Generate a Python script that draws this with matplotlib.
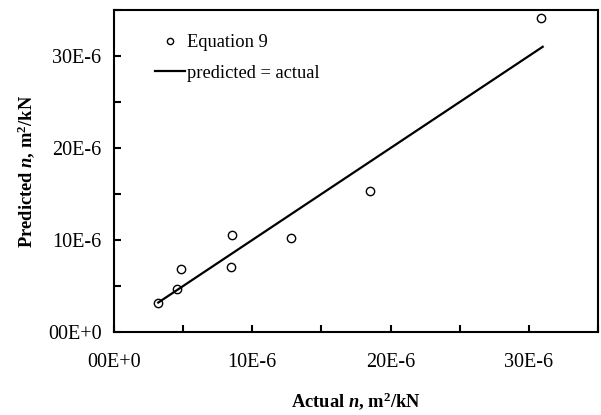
import matplotlib
matplotlib.use("Agg")
from matplotlib import pyplot as plt
from matplotlib.ticker import FixedLocator, MultipleLocator

plt.rcParams['font.family'] = ['Liberation Serif', 'DejaVu Serif']
plt.rcParams['mathtext.fontset'] = 'custom'
plt.rcParams['mathtext.rm'] = 'Liberation Serif'
plt.rcParams['mathtext.it'] = 'Liberation Serif:italic'
plt.rcParams['mathtext.bf'] = 'Liberation Serif:bold'
plt.rcParams['mathtext.bfit'] = 'Liberation Serif:bold:italic'

# data (units: m^2/kN)
actual = [3.2e-6, 4.55e-6, 4.85e-6, 8.5e-6, 8.45e-6, 12.8e-6, 18.5e-6, 30.9e-6]
predicted = [3.15e-6, 4.65e-6, 6.85e-6, 10.5e-6, 7.05e-6, 10.2e-6, 15.3e-6, 34.1e-6]
line_x = [3.2e-6, 31e-6]
line_y = [3.2e-6, 31e-6]

tick_vals = [0, 10e-6, 20e-6, 30e-6]
tick_labels = ['00E+0', '10E-6', '20E-6', '30E-6']

fig = plt.figure(figsize=(6.01, 4.15), dpi=100)
ax = fig.add_axes([114/601, 83/415, 484/601, 322/415])

ax.plot(actual, predicted, 'o', mfc='white', mec='black', ms=6, mew=1.0,
        label='Equation 9')
ax.plot(line_x, line_y, '-', color='black', lw=1.6, label='predicted = actual')

ax.set_xlim(0, 35e-6)
ax.set_ylim(0, 35e-6)
ax.xaxis.set_major_locator(FixedLocator(tick_vals))
ax.yaxis.set_major_locator(FixedLocator(tick_vals))
ax.set_xticklabels(tick_labels)
ax.set_yticklabels(tick_labels)
ax.xaxis.set_minor_locator(MultipleLocator(5e-6))
ax.yaxis.set_minor_locator(MultipleLocator(5e-6))
ax.tick_params(which='both', direction='in', top=False, right=False,
               labelsize=14.5, width=1.5)
ax.tick_params(axis='x', pad=15)
ax.tick_params(axis='y', pad=9)
ax.tick_params(which='major', length=5)
ax.tick_params(which='minor', length=5)
for s in ax.spines.values():
    s.set_linewidth(1.5)

ax.set_xlabel(r'Actual $\mathbfit{n}$, m$^{\mathbf{2}}$/kN', fontsize=13.3,
              fontweight='bold', labelpad=13)
ax.set_ylabel(r'Predicted $\mathbfit{n}$, m$^{\mathbf{2}}$/kN', fontsize=13.3,
              fontweight='bold', labelpad=8)

ax.legend(loc='upper left', bbox_to_anchor=(155/601, 1 - 34/415),
          bbox_transform=fig.transFigure, frameon=False, fontsize=13.3,
          borderpad=0, borderaxespad=0, handlelength=1.6, handletextpad=0.15,
          labelspacing=0.75, markerscale=0.75)

fig.savefig('out.png', dpi=100)
